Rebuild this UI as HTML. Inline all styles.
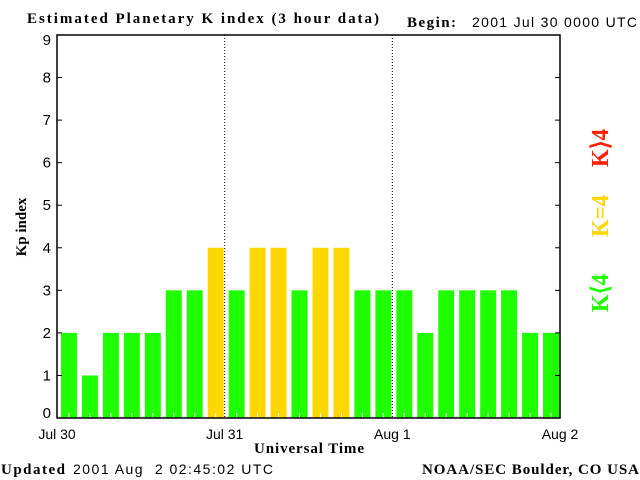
<!DOCTYPE html>
<html><head><style>
body{margin:0;background:#fff}
svg{display:block}
text{white-space:pre}
.s{font-family:"Liberation Sans",sans-serif;font-size:14px}
.b{font-family:"Liberation Serif",serif;font-size:15px;font-weight:bold}
.lg{font-family:"Liberation Serif",serif;font-size:24px;font-weight:bold}
</style></head><body>
<svg id="c" width="640" height="480" xmlns="http://www.w3.org/2000/svg">
<text class="b" x="27" y="23" textLength="352" lengthAdjust="spacing">Estimated Planetary K index (3 hour data)</text>
<text class="b" x="407" y="27" textLength="49" lengthAdjust="spacing">Begin:</text>
<text class="s" x="472" y="27" textLength="165" lengthAdjust="spacing">2001 Jul 30 0000 UTC</text>
<text class="b" x="1" y="474" textLength="64" lengthAdjust="spacing">Updated</text>
<text class="s" x="73" y="474" textLength="200" lengthAdjust="spacing">2001 Aug  2 02:45:02 UTC</text>
<text class="b" x="422" y="474" textLength="217" lengthAdjust="spacing">NOAA/SEC Boulder, CO USA</text>
<text class="b" x="254" y="453" textLength="110" lengthAdjust="spacing">Universal Time</text>
<text class="b" transform="translate(26,227) rotate(-90)" text-anchor="middle">Kp index</text>
<text class="lg" x="-167" y="608" transform="rotate(-90)" textLength="38" lengthAdjust="spacingAndGlyphs" fill="#ff2000">K⟩4</text>
<text class="lg" x="-237" y="608" transform="rotate(-90)" textLength="42" lengthAdjust="spacingAndGlyphs" fill="#ffd700">K=4</text>
<text class="lg" x="-312" y="608" transform="rotate(-90)" textLength="38" lengthAdjust="spacingAndGlyphs" fill="#1eff00">K⟨4</text>
<g id="bars"></g>
<g id="axes"></g>
</svg>
<script>
const kpValues=[2,1,2,2,2,3,3,4,3,4,4,3,4,4,3,3,3,2,3,3,3,3,2,2];
const yTicks=[0,1,2,3,4,5,6,7,8,9];
const dayLabels=["Jul 30","Jul 31","Aug 1","Aug 2"];
const X0=57,X1=560,Y0=418,Y1=35;
const NS="http://www.w3.org/2000/svg";
const slot=(X1-X0)/kpValues.length;
function xs(i){return X0+i*slot;}
function ys(v){return Y0-(Y0-Y1)*v/9;}
function mk(t,a,p){const e=document.createElementNS(NS,t);for(const k in a)e.setAttribute(k,a[k]);p.appendChild(e);return e;}
const bars=document.getElementById('bars'),axes=document.getElementById('axes');
kpValues.forEach((v,i)=>{
 const col=v<4?"#1eff00":(v==4?"#ffd700":"#ff2000");
 const r=mk('rect',{x:xs(i)+4,y:ys(v),width:slot-5,height:Y0-ys(v),fill:col},bars);
 
 
 const cx=xs(i)+4+(slot-5)/2;
 mk('line',{x1:cx,x2:cx,y1:Y0-5,y2:Y0,stroke:"#fff","stroke-width":1},bars);
});
for(let d=1;d<3;d++){const x=X0+d*(X1-X0)/3;
 const l=mk('line',{x1:x,x2:x,y1:Y1,y2:Y0,stroke:"#000","stroke-dasharray":"1,2"},axes);
 
 }
mk('rect',{x:X0,y:Y1,width:X1-X0,height:Y0-Y1,fill:"none",stroke:"#000","stroke-width":1.5},axes);
yTicks.forEach(v=>{const y=ys(v);
 mk('line',{x1:X0,x2:X0+5,y1:y,y2:y,stroke:"#000"},axes);
 mk('line',{x1:X1-5,x2:X1,y1:y,y2:y,stroke:"#000"},axes);
 const ly=Math.min(Math.max(y,40),413);
 const t=mk('text',{x:X0-6,y:ly+5,"text-anchor":"end",class:"s",style:"font-size:15px"},axes);t.textContent=v;
 
 });
dayLabels.forEach((s,d)=>{const x=X0+d*(X1-X0)/3;
 const t=mk('text',{x:x,y:439,"text-anchor":"middle",class:"s"},axes);t.textContent=s;
 
 });
</script>
</body></html>
